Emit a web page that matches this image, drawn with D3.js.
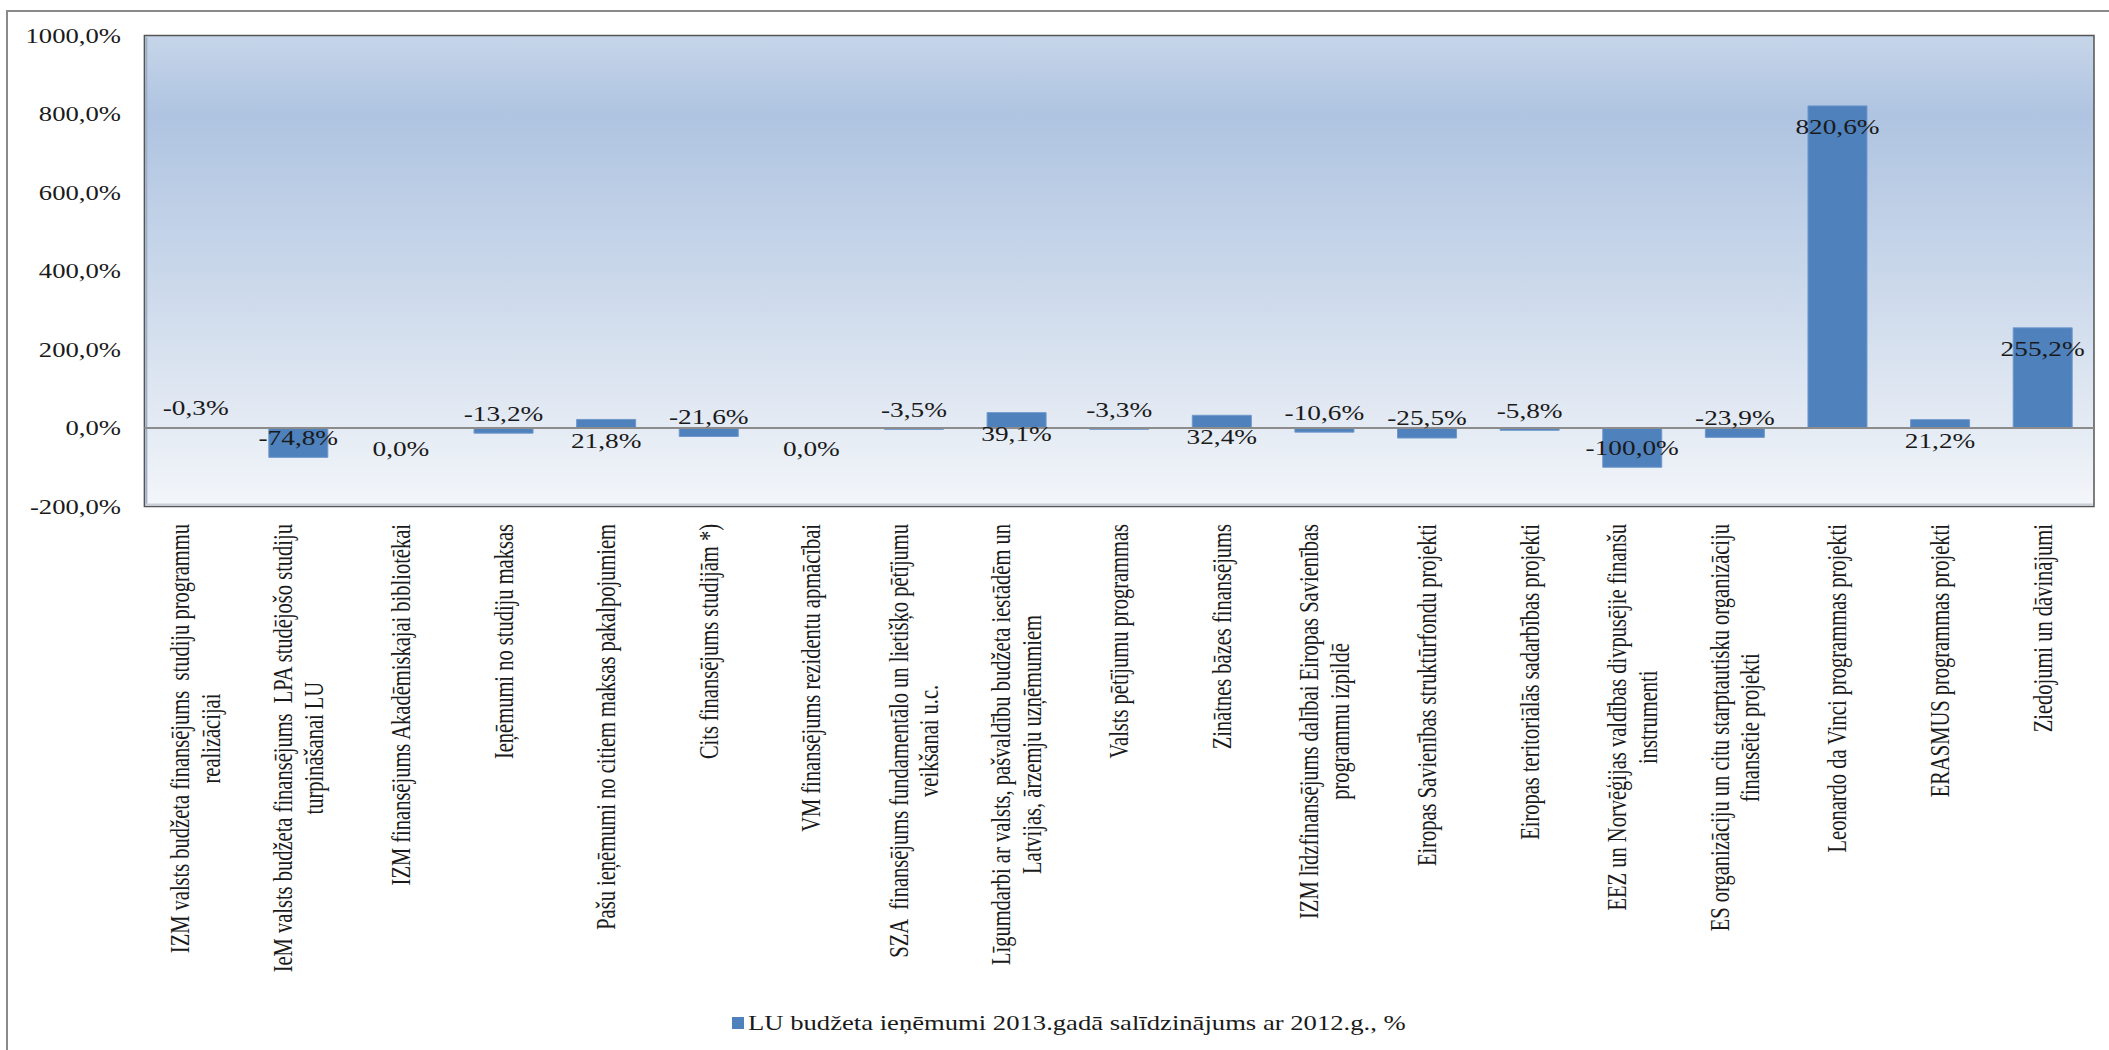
<!DOCTYPE html>
<html>
<head>
<meta charset="utf-8">
<script src="https://cdn.jsdelivr.net/npm/d3@7"></script>
<style>
  html, body { margin: 0; padding: 0; background: #ffffff; }
  svg { display: block; }
  text { font-family: "Liberation Serif", "Times New Roman", serif; fill: #1a1a1a; }
</style>
</head>
<body>
<svg id="chart" width="2109" height="1050"></svg>
<script>
// ---------- data ----------
const categories = [
  "IZM valsts budžeta finansējums  studiju programmu\nrealizācijai",
  "IeM valsts budžeta finansējums  LPA studējošo studiju\nturpināšanai LU",
  "IZM finansējums Akadēmiskajai bibliotēkai",
  "Ieņēmumi no studiju maksas",
  "Pašu ieņēmumi no citiem maksas pakalpojumiem",
  "Cits finansējums studijām *)",
  "VM finansējums rezidentu apmācībai",
  "SZA  finansējums fundamentālo un lietišķo pētījumu\nveikšanai u.c.",
  "Līgumdarbi ar valsts, pašvaldību budžeta iestādēm un\nLatvijas, ārzemju uzņēmumiem",
  "Valsts pētījumu programmas",
  "Zinātnes bāzes finansējums",
  "IZM līdzfinansējums dalībai Eiropas Savienības\nprogrammu izpildē",
  "Eiropas Savienības struktūrfondu projekti",
  "Eiropas teritoriālās sadarbības projekti",
  "EEZ un Norvēģijas valdības divpusējie finanšu\ninstrumenti",
  "ES organizāciju un citu starptautisku organizāciju\nfinansētie projekti",
  "Leonardo da Vinci programmas projekti",
  "ERASMUS programmas projekti",
  "Ziedojumi un dāvinājumi"
];
const values = [-0.3, -74.8, 0.0, -13.2, 21.8, -21.6, 0.0, -3.5, 39.1, -3.3, 32.4, -10.6, -25.5, -5.8, -100.0, -23.9, 820.6, 21.2, 255.2];
const yTicks = [-200, 0, 200, 400, 600, 800, 1000];
const seriesName = "LU budžeta ieņēmumi 2013.gadā salīdzinājums ar 2012.g., %";

// ---------- layout ----------
const SX = 1.3;               // horizontal stretch of the original picture
const plotL = 144.4 / SX, plotR = 2094 / SX;
const plotT = 35.5, plotB = 506.5;

const fmt = v => d3.format(".1f")(v).replace(".", ",").replace("\u2212", "-") + "%";

const svg = d3.select("#chart");
const defs = svg.append("defs");
const grad = defs.append("linearGradient").attr("id", "bg").attr("x1", 0).attr("y1", 0).attr("x2", 0).attr("y2", 1);
[[0, "#c6d5e9"], [0.17, "#afc4e1"], [0.5, "#c9d7ea"], [0.8, "#e2e9f3"], [1, "#f3f6fa"]]
  .forEach(([o, c]) => grad.append("stop").attr("offset", o).attr("stop-color", c));

const g = svg.append("g").attr("transform", `scale(${SX},1)`);

// outer chart frame (cropped at right/bottom in the original)
g.append("rect")
  .attr("x", 7 / SX).attr("y", 11)
  .attr("width", 2300 / SX).attr("height", 1200)
  .attr("fill", "none").attr("stroke", "#8a8a8a").attr("stroke-width", 2)
  .attr("vector-effect", "non-scaling-stroke");

const x = d3.scaleBand().domain(d3.range(values.length)).range([plotL, plotR])
  .paddingInner(0.425).paddingOuter(0.2125);
const y = d3.scaleLinear().domain([-200, 1000]).range([plotB, plotT]);

// plot area
g.append("rect")
  .attr("x", plotL).attr("y", plotT)
  .attr("width", plotR - plotL).attr("height", plotB - plotT)
  .attr("fill", "url(#bg)")
  .attr("stroke", "#555555").attr("stroke-width", 1.5)
  .attr("vector-effect", "non-scaling-stroke");
// faint inner shadow on left and bottom edges
g.append("line").attr("x1", plotL + 1.5).attr("x2", plotL + 1.5).attr("y1", plotT + 2).attr("y2", plotB - 1)
  .attr("stroke", "#9fb0c6").attr("stroke-width", 2).attr("vector-effect", "non-scaling-stroke");
g.append("line").attr("x1", plotL + 1).attr("x2", plotR - 1).attr("y1", plotB - 2).attr("y2", plotB - 2)
  .attr("stroke", "#c9cfd8").attr("stroke-width", 2).attr("vector-effect", "non-scaling-stroke");

// y axis
const yAxis = d3.axisLeft(y).tickValues(yTicks).tickFormat(fmt).tickSize(0).tickPadding(18);
const ya = g.append("g").attr("transform", `translate(${plotL},0)`).call(yAxis);
ya.select(".domain").remove();
ya.selectAll("text")
  .attr("font-family", "Liberation Serif, Times New Roman, serif")
  .attr("font-size", 20.5).attr("fill", "#1a1a1a");

// bars
g.append("g").selectAll("rect").data(values).join("rect")
  .attr("x", (d, i) => x(i))
  .attr("width", x.bandwidth())
  .attr("y", d => y(Math.max(0, d)))
  .attr("height", d => Math.abs(y(d) - y(0)))
  .attr("fill", "#4f81bd")
  .attr("stroke", "#6f98cc").attr("stroke-width", 1)
  .attr("vector-effect", "non-scaling-stroke");

// zero line
g.append("line")
  .attr("x1", plotL).attr("x2", plotR)
  .attr("y1", y(0)).attr("y2", y(0))
  .attr("stroke", "#8c8c8c").attr("stroke-width", 2)
  .attr("vector-effect", "non-scaling-stroke");

// data labels
g.append("g").selectAll("text").data(values).join("text")
  .attr("x", (d, i) => x(i) + x.bandwidth() / 2)
  .attr("y", d => d >= 0 ? y(d) + 21 : y(d) - 20)
  .attr("dy", "0.35em")
  .attr("text-anchor", "middle")
  .attr("font-size", 21)
  .text(fmt);

// category labels (rotated, lines centred, block top aligned under plot)
const labelTop = 524, lineH = 23.6;
const cl = g.append("g");
categories.forEach((c, i) => {
  const lines = c.split("\n");
  const t = cl.append("text")
    .attr("text-anchor", "middle")
    .attr("font-size", 20.5)
    .attr("xml:space", "preserve");
  lines.forEach((ln, j) => {
    t.append("tspan").attr("x", 0)
      .attr("y", (j - (lines.length - 1) / 2) * lineH)
      .attr("dominant-baseline", "central")
      .text(ln);
  });
  let maxLen = 0;
  t.selectAll("tspan").each(function () { maxLen = Math.max(maxLen, this.getComputedTextLength()); });
  t.attr("transform", `translate(${x(i) + x.bandwidth() / 2},${labelTop + maxLen / 2}) rotate(-90)`);
});

// legend
const lg = g.append("g");
const legY = 1023;
lg.append("rect").attr("x", 732 / SX).attr("y", legY - 6).attr("width", 12 / SX).attr("height", 12)
  .attr("fill", "#4f81bd");
lg.append("text").attr("x", 748 / SX).attr("y", legY).attr("dy", "0.35em")
  .attr("font-size", 20.5).text(seriesName);
</script>
</body>
</html>
